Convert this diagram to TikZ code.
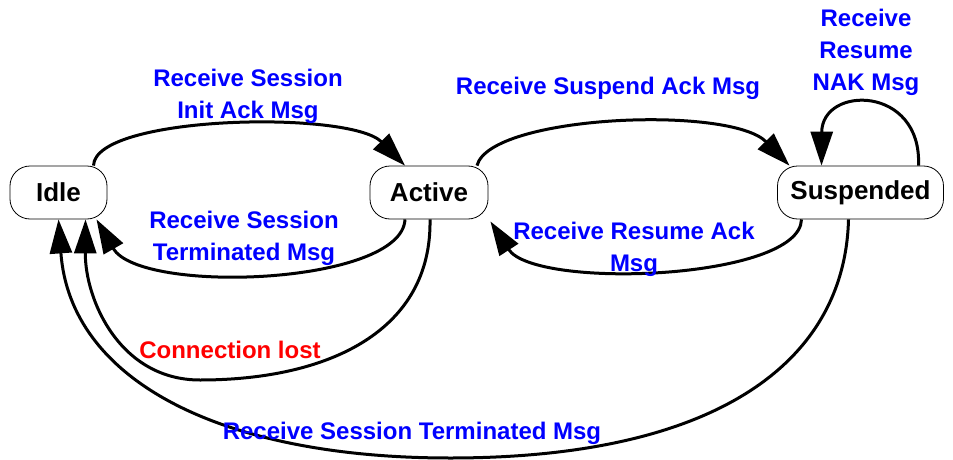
\documentclass[tikz,border=0pt]{standalone}
\usepackage{fontspec}
\setmainfont{Liberation Sans}
\usetikzlibrary{arrows.meta}
\definecolor{lblblue}{RGB}{0,0,255}
\definecolor{lblred}{RGB}{255,0,0}
\begin{document}
\begin{tikzpicture}[x=1pt,y=-1pt,
  state/.style={draw, line width=0.8pt, rounded corners=20pt, minimum height=53pt, inner sep=0pt,
    font=\fontsize{26}{30}\selectfont\bfseries},
  edge/.style={line width=3pt, -{Triangle[length=34pt,width=22pt]}},
  lbl/.style={text=lblblue, align=center, inner sep=0pt, font=\fontsize{24}{32}\selectfont\bfseries},
  lblr/.style={lbl, text=lblred}]
\path[use as bounding box] (0,0) rectangle (953,460);

\node[state, minimum width=97pt] (idle) at (58.5,192.5) {Idle};
\node[state, minimum width=118pt] (active) at (429,192.5) {Active};
\node[state, minimum width=166pt] (susp) at (860.5,192.5) {Suspended};

% Idle -> Active
\draw[edge] ([xshift=35pt]idle.north) .. controls (95,115) and (350,110) .. ([xshift=-24pt]active.north);
% Active -> Idle (Receive Session Terminated)
\draw[edge] ([xshift=-24pt]active.south) .. controls (402,285) and (140,295) .. ([xshift=38pt]idle.south);
% Active -> Idle (Connection lost)
\coordinate (cl) at (200,380);
\draw[edge] ([xshift=1pt]active.south) .. controls (432,330) and (330,380) .. (cl)
  .. controls (120,380) and (85,300) .. ([xshift=27pt]idle.south);
% Suspended -> Idle
\coordinate (st) at (450,458);
\draw[edge] ([xshift=-12pt]susp.south) .. controls (845,360) and (720,458) .. (st)
  .. controls (220,458) and (70,380) .. (idle.south);
% Active -> Suspended
\draw[edge] ([xshift=48pt]active.north) .. controls (490,115) and (730,105) .. ([xshift=-71pt]susp.north);
% Suspended -> Active
\draw[edge] ([xshift=-59pt]susp.south) .. controls (800,280) and (535,290) .. ([xshift=2pt,yshift=-2pt]active.south east);
% Self loop
\draw[edge] ([xshift=58pt]susp.north) .. controls (922,85) and (822,85) .. ([xshift=-39pt]susp.north);

% Labels
\node[lbl] (l1) at (248,96) {Receive Session\\Init Ack Msg};
\node[lbl] (l2) at (244,238.5) {Receive Session\\Terminated Msg};
\node[lblr] (l3) at (230,350) {Connection lost};
\node[lbl] (l4) at (412,433) {Receive Session Terminated Msg};
\node[lbl] (l5) at (608,88) {Receive Suspend Ack Msg};
\node[lbl] (l6) at (634,249.5) {Receive Resume Ack\\Msg};
\node[lbl] (l7) at (866,52) {Receive\\Resume\\NAK Msg};
\end{tikzpicture}
\end{document}
